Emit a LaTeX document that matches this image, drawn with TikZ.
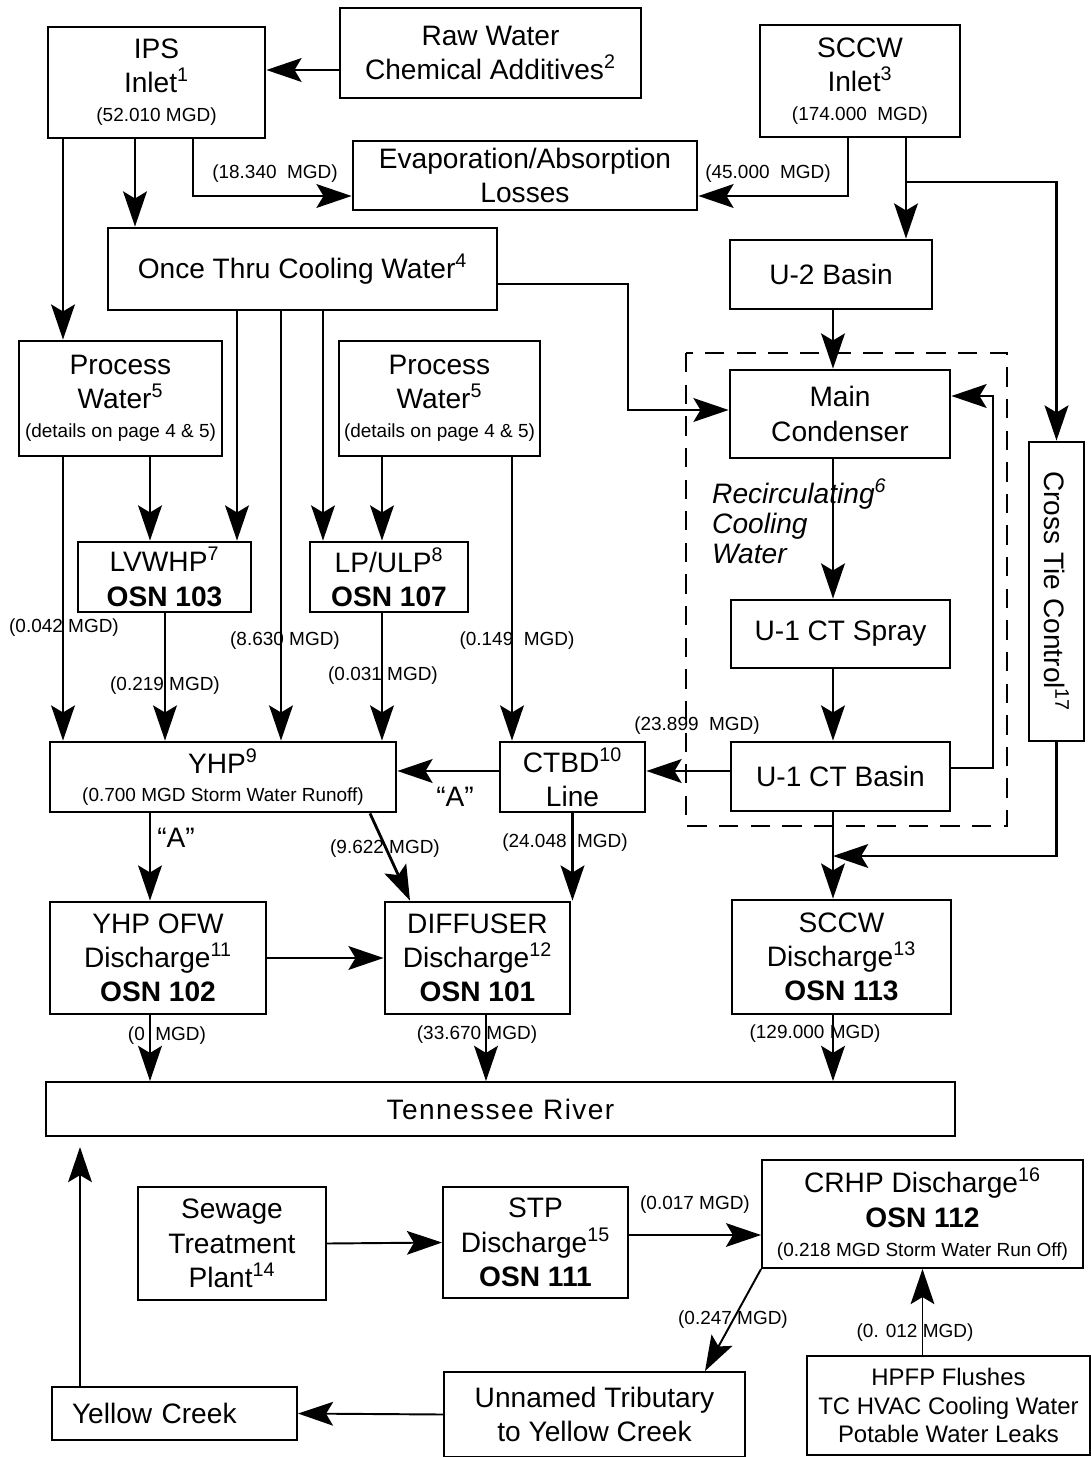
\documentclass[tikz,border=0pt]{standalone}
\usepackage{fontspec}
\setmainfont{Liberation Sans}
\usetikzlibrary{arrows.meta}
\tikzstyle{block}=[draw, line width=1.6pt, align=center, inner sep=1pt]
\tikzstyle{thinblock}=[draw, line width=1.1pt, align=center, inner sep=1pt]
\tikzstyle{flow}=[draw, line width=1.6pt, -{Stealth[length=20pt,width=13.5pt,inset=4pt]}]
\tikzstyle{flowthin}=[draw, line width=1.1pt, -{Stealth[length=20pt,width=13.5pt,inset=4pt]}]
\tikzstyle{lbl}=[font=\fontsize{10.8}{13}\selectfont, inner sep=0pt]
\newcommand{\block}{\node[block]}
\newcommand{\sm}[1]{{\fontsize{10.8}{13}\selectfont #1}}
\newcommand{\fn}[1]{\textsuperscript{#1}}

\begin{document}
\begin{tikzpicture}[x=0.02cm, y=-0.02cm, font=\fontsize{16}{19.5}\selectfont]
\useasboundingbox (0,0) rectangle (1090,1457);

% rows and columns of the pipes
\coordinate (rA) at (0,70);
\coordinate (rB) at (0,196);
\coordinate (rC) at (0,182);
\coordinate (rD) at (0,284);
\coordinate (rE) at (0,410);
\coordinate (rF) at (0,396);
\coordinate (rG) at (0,768);
\coordinate (rH) at (0,771);
\coordinate (rJ) at (0,856);
\coordinate (rK) at (0,1235);
\coordinate (cA) at (63,0);
\coordinate (cB) at (135,0);
\coordinate (cC) at (193,0);
\coordinate (cD) at (848,0);
\coordinate (cE) at (906,0);
\coordinate (cG) at (833,0);
\coordinate (cH) at (628,0);
\coordinate (cI) at (993,0);
\coordinate (c1) at (150,0);
\coordinate (c2) at (237,0);
\coordinate (c3) at (281,0);
\coordinate (c4) at (323,0);
\coordinate (c5) at (382,0);
\coordinate (c6) at (512,0);
\coordinate (c7) at (165,0);
\coordinate (c8) at (486,0);
\coordinate (c9) at (370,0);
\coordinate (c10) at (410,0);
\coordinate (c11) at (705,0);
\coordinate (c12) at (80,0);
\coordinate (rvin) at (80,1147);

% recirculating loop
\draw[line width=1.5pt, dash pattern=on 11pt off 7pt] (686,353) rectangle (1007,826);

\block[minimum width=4.34cm, minimum height=2.22cm] (ips) at (156.5,82.5) {IPS\\Inlet\fn{1}\\[-3pt]\sm{(52.010 MGD)}};
\block[minimum width=6.02cm, minimum height=1.8cm] (raw) at (490.5,53) {Raw Water\\Chemical Additives\fn{2}};
\block[minimum width=4cm, minimum height=2.24cm] (sin) at (860,81) {SCCW\\Inlet\fn{3}\\[-3pt]\sm{(174.000~~MGD)}};
\block[minimum width=6.88cm, minimum height=1.38cm] (evap) at (525,175.5) {Evaporation/Absorption\\Losses};
\block[minimum width=7.78cm, minimum height=1.64cm] (otcw) at (302.5,269) {Once Thru Cooling Water\fn{4}};
\block[minimum width=4.04cm, minimum height=1.38cm] (u2) at (831,274.5) {U-2 Basin};
\block[minimum width=4.06cm, minimum height=2.3cm] (pwl) at (120.5,398.5) {Process\\Water\fn{5}\\[-3pt]\sm{(details on page 4 \& 5)}};
\block[minimum width=4.02cm, minimum height=2.3cm] (pwr) at (439.5,398.5) {Process\\Water\fn{5}\\[-3pt]\sm{(details on page 4 \& 5)}};
\block[minimum width=4.4cm, minimum height=1.76cm] (cond) at (840,414) {Main\\Condenser};
\block[minimum width=3.46cm, minimum height=1.4cm] (lv) at (164.5,577) {LVWHP\fn{7}\\\textbf{OSN 103}};
\block[minimum width=3.16cm, minimum height=1.4cm] (lp) at (389,577) {LP/ULP\fn{8}\\\textbf{OSN 107}};
\block[minimum width=4.38cm, minimum height=1.36cm] (spray) at (840.5,634) {U-1 CT Spray};
\block[minimum width=4.38cm, minimum height=1.38cm] (basin) at (840.5,776.5) {U-1 CT Basin};
\block[rotate=-90, minimum width=5.98cm, minimum height=1.1cm] (xtie) at (1056.5,591.5) {Cross Tie Control\fn{17}};
\node[align=left, anchor=west, font=\fontsize{16}{17}\selectfont\itshape] (recirc) at (706,521) {Recirculating\fn{6}\\Cooling\\Water};
\block[minimum width=6.92cm, minimum height=1.4cm] (yhp) at (223,777) {YHP\fn{9}\\[-4pt]\sm{(0.700 MGD Storm Water Runoff)}};
\block[minimum width=2.9cm, minimum height=1.4cm] (ctbd) at (572.5,777) {CTBD\fn{10}\\Line};
\block[minimum width=4.32cm, minimum height=2.24cm] (ofw) at (158,958) {YHP OFW\\Discharge\fn{11}\\\textbf{OSN 102}};
\block[minimum width=3.7cm, minimum height=2.24cm] (diff) at (477.5,958) {DIFFUSER\\Discharge\fn{12}\\\textbf{OSN 101}};
\block[minimum width=4.38cm, minimum height=2.28cm] (sout) at (841.5,957) {SCCW\\Discharge\fn{13}\\\textbf{OSN 113}};
\node[thinblock, minimum width=18.18cm, minimum height=1.08cm] (river) at (500.5,1109) {\addfontfeature{LetterSpace=5}Tennessee River};
\node[thinblock, minimum width=3.76cm, minimum height=2.26cm] (stp) at (232,1243.5) {Sewage\\Treatment\\Plant\fn{14}};
\node[thinblock, minimum width=3.7cm, minimum height=2.22cm] (stpd) at (535.5,1242.5) {STP\\Discharge\fn{15}\\\textbf{OSN 111}};
\node[thinblock, minimum width=6.42cm, minimum height=2.16cm] (crhp) at (922.5,1214) {CRHP Discharge\fn{16}\\\textbf{OSN 112}\\[-3pt]\sm{(0.218 MGD Storm Water Run Off)}};
\node[thinblock, minimum width=5.66cm, minimum height=1.98cm, font=\fontsize{13.6}{16}\selectfont] (hpfp) at (948.5,1405.5) {HPFP Flushes\\TC HVAC Cooling Water\\Potable Water Leaks};
\node[thinblock, minimum width=6.02cm, minimum height=1.7cm] (trib) at (594.5,1414.5) {Unnamed Tributary\\to Yellow Creek};
\node[thinblock, text width=4.1cm, inner xsep=0.4cm, minimum height=1.06cm, align=left] (yc) at (174.5,1413.5) {Yellow Creek};

% intake side
\draw[flow] (raw.west |- rA) -- (ips.east |- rA);
\draw[flow] (ips.south -| cC) |- (evap.west |- rB);
\draw[flow] (sin.south -| cD) |- (evap.east |- rB);
\draw[flow] (ips.south -| cB) -- (otcw.north -| cB);
\draw[flow] (ips.south -| cA) -- (pwl.north -| cA);
\draw[flow] (sin.south -| cE) -- (u2.north -| cE);
\draw[flow] (cE |- rC) -| (xtie.west);
\draw[flow] (u2.south -| cG) -- (cond.north -| cG);
\draw[flow] (otcw.east |- rD) -| (cH |- rE) -- (cond.west |- rE);
% recirculating water
\draw[flow] (cond.south -| cG) -- (spray.north -| cG);
\draw[flow] (spray.south -| cG) -- (basin.north -| cG);
\draw[flow] (basin.east |- rG) -| (cI |- rF) -- (cond.east |- rF);
\draw[flow] (basin.west |- rH) -- (ctbd.east |- rH);
\draw[flow] (basin.south -| cG) -- (sout.north -| cG);
\draw[flow] (xtie.east) |- (cG |- rJ);
% process water
\draw[flow] (pwl.south -| c1) -- (lv.north -| c1);
\draw[flow] (otcw.south -| c2) -- (lv.north -| c2);
\draw[flow] (otcw.south -| c3) -- (yhp.north -| c3);
\draw[flow] (otcw.south -| c4) -- (lp.north -| c4);
\draw[flow] (pwr.south -| c5) -- (lp.north -| c5);
\draw[flow] (pwr.south -| c6) -- (ctbd.north -| c6);
\draw[flow] (pwl.south -| cA) -- (yhp.north -| cA);
\draw[flow] (lv.south -| c7) -- (yhp.north -| c7);
\draw[flow] (lp.south -| c5) -- (yhp.north -| c5);
\draw[flow] (ctbd.west |- rH) -- (yhp.east |- rH);
\draw[flow] (yhp.south -| c1) -- (ofw.north -| c1);
\draw[flow] (yhp.south -| c9) -- (diff.north -| c10);
\draw[flow] (ctbd.south) -- (diff.north -| ctbd.south);
\draw[flow] (ofw.east) -- (diff.west);
\draw[flow] (ofw.south -| c1) -- (river.north -| c1);
\draw[flow] (diff.south -| c8) -- (river.north -| c8);
\draw[flow] (sout.south -| cG) -- (river.north -| cG);
% sewage and run off
\draw[flowthin] (yc.north -| c12) -- (rvin);
\draw[flowthin] (stp.east) -- (stpd.west);
\draw[flowthin] (stpd.east |- rK) -- (crhp.west |- rK);
\draw[flowthin] (crhp.south west) -- (trib.north -| c11);
\draw[flowthin] (hpfp.north -| crhp.south) -- (crhp.south);
\draw[flowthin] (trib.west) -- (yc.east);

% flow rates
\node[lbl] at (275,174) {(18.340~~MGD)};
\node[lbl] at (768,174) {(45.000~~MGD)};
\node[lbl] at (64,628) {(0.042 MGD)};
\node[lbl] at (285,641) {(8.630 MGD)};
\node[lbl] at (517,641) {(0.149~~MGD)};
\node[lbl] at (165,686) {(0.219 MGD)};
\node[lbl] at (383,676) {(0.031 MGD)};
\node[lbl] at (697,726) {(23.899~~MGD)};
\node[inner sep=0pt] at (455,797) {“A”};
\node[inner sep=0pt] at (176,838) {“A”};
\node[lbl] at (385,849) {(9.622 MGD)};
\node[lbl] at (565,843) {(24.048~~MGD)};
\node[lbl] at (167,1036) {(0~~MGD)};
\node[lbl] at (477,1035) {(33.670 MGD)};
\node[lbl] at (815,1034) {(129.000 MGD)};
\node[lbl] at (695,1205) {(0.017 MGD)};
\node[lbl] at (733,1320) {(0.247 MGD)};
\node[lbl] at (915,1333) {(0. 012 MGD)};
\end{tikzpicture}
\end{document}
